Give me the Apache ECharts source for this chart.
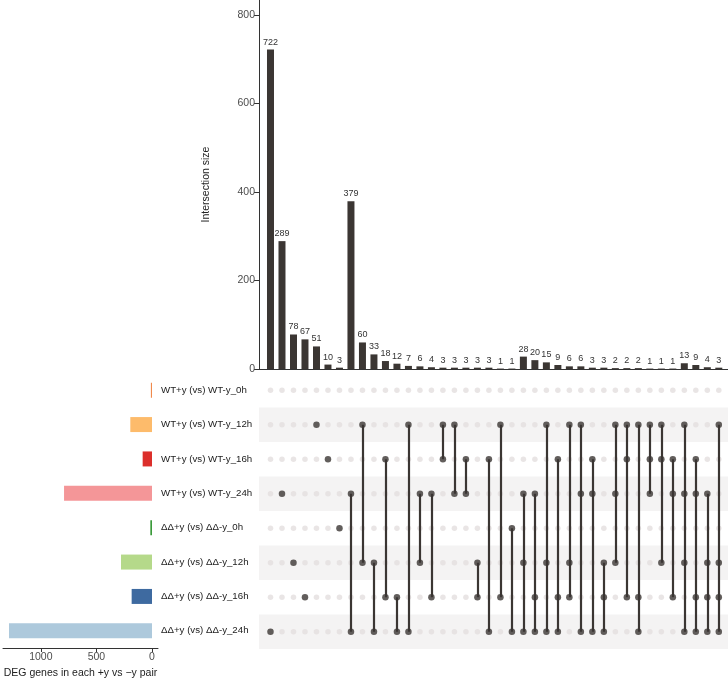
<!DOCTYPE html>
<html lang="en">
<head>
    <meta charset="utf-8">
    <title>UpSet - DEG intersections</title>
    <script src="https://cdn.jsdelivr.net/npm/echarts@6/dist/echarts.min.js"></script>
    <style>
        body { margin: 0; background: #fff; }
        #main { width: 728px; height: 680px; }
    </style>
</head>
<body>
    <div id="main"></div>
    <script type="text/javascript">
    // set names, top to bottom
    var sets = [
        'WT+y (vs) WT-y_0h',
        'WT+y (vs) WT-y_12h',
        'WT+y (vs) WT-y_16h',
        'WT+y (vs) WT-y_24h',
        'ΔΔ+y (vs) ΔΔ-y_0h',
        'ΔΔ+y (vs) ΔΔ-y_12h',
        'ΔΔ+y (vs) ΔΔ-y_16h',
        'ΔΔ+y (vs) ΔΔ-y_24h'
    ];
    // DEG genes per set (left bars)
    var setSizes = [10, 195, 84, 791, 15, 279, 183, 1286];
    var setColors = ['#f08a4b', '#fdbb6b', '#dc2f2b', '#f49698', '#3a9a3a', '#b5d98a', '#3e6aa0', '#adc9dc'];

    // intersection sizes (top bars), left to right
    var intersectionSizes = [722, 289, 78, 67, 51, 10, 3, 379, 60, 33, 18, 12, 7, 6, 4, 3, 3, 3, 3, 3,
        1, 1, 28, 20, 15, 9, 6, 6, 3, 3, 2, 2, 2, 1, 1, 1, 13, 9, 4, 3];
    // which sets (row index) belong to each intersection
    var memberships = [
        [7], [3], [5], [6], [1], [2], [4],
        [3, 7], [1, 5], [5, 7], [2, 6], [6, 7], [1, 7], [3, 5], [3, 6], [1, 2], [1, 3], [2, 3], [5, 6], [2, 7],
        [1, 6], [4, 7],
        [3, 5, 7], [3, 6, 7], [1, 5, 7], [2, 6, 7], [1, 5, 6], [1, 3, 7], [2, 3, 7], [5, 6, 7], [1, 3, 5],
        [1, 2, 6], [1, 6, 7], [1, 2, 3], [1, 2, 5], [2, 3, 6],
        [1, 3, 5, 7], [2, 3, 6, 7], [3, 5, 6, 7], [1, 5, 6, 7]
    ];
    var yTicks = [0, 200, 400, 600, 800];
    var sizeTicks = [0, 500, 1000];

    var dark = '#3b3633';
    var font = 'Liberation Sans';

    // build series data
    var barData = intersectionSizes.map(function (v, i) { return [i + 1, v]; });
    var offDots = [], onDots = [], segs = [];
    memberships.forEach(function (m, i) {
        var x = i + 1;
        for (var r = 0; r < sets.length; r++) {
            if (m.indexOf(r) >= 0) onDots.push([x, r]);
            else offDots.push([x, r]);
        }
        if (m.length > 1) {
            segs.push({ coords: [[x, Math.min.apply(null, m)], [x, Math.max.apply(null, m)]] });
        }
    });
    var stripes = [];
    for (var r = 1; r < sets.length; r += 2) {
        stripes.push([{ xAxis: 0, yAxis: r - 0.5 }, { xAxis: 40.8, yAxis: r + 0.5 }]);
    }

    var myChart = echarts.init(document.getElementById('main'));

    myChart.setOption({
        animation: false,
        textStyle: { fontFamily: font },
        grid: [
            { left: 259, top: 0, width: 469, height: 369 },   // intersection bars
            { left: 259, top: 373, width: 469, height: 276 }, // matrix
            { left: 3, top: 373, width: 155, height: 276 }    // set sizes
        ],
        xAxis: [
            {
                gridIndex: 0, type: 'value', min: 0, max: 40.8,
                axisLine: { show: true, lineStyle: { color: '#333' } },
                axisTick: { show: false }, axisLabel: { show: false }, splitLine: { show: false }
            },
            {
                gridIndex: 1, type: 'value', min: 0, max: 40.8, show: false
            },
            {
                gridIndex: 2, type: 'value', inverse: true, min: -54, max: 1340,
                axisLine: { show: true, onZero: false, lineStyle: { color: '#333' } },
                axisTick: { show: true, length: 4, customValues: sizeTicks, lineStyle: { color: '#333' } },
                axisLabel: {
                    customValues: sizeTicks, fontSize: 10.5, color: '#4d4d4d', margin: 4,
                    formatter: function (v) { return String(v); }
                },
                splitLine: { show: false },
                name: 'DEG genes in each +y vs \u2212y pair',
                nameLocation: 'middle', nameGap: 20,
                nameTextStyle: { fontSize: 10.5, color: '#222' }
            }
        ],
        yAxis: [
            {
                gridIndex: 0, type: 'value', min: 0, max: 834,
                axisLine: { show: true, lineStyle: { color: '#333' } },
                axisTick: { show: true, length: 5, customValues: yTicks, lineStyle: { color: '#333' } },
                axisLabel: { customValues: yTicks, fontSize: 10.5, color: '#4d4d4d', margin: 4 },
                splitLine: { show: false },
                name: 'Intersection size', nameLocation: 'middle', nameGap: 47,
                nameTextStyle: { fontSize: 10.5, color: '#222' }
            },
            {
                gridIndex: 1, type: 'value', min: -0.5, max: 7.5, inverse: true, show: false
            },
            {
                gridIndex: 2, type: 'category', data: sets, inverse: true, position: 'right',
                axisLine: { show: false }, axisTick: { show: false },
                axisLabel: { fontSize: 9.7, color: '#222', margin: 3, align: 'left' }
            }
        ],
        series: [
            {
                type: 'bar', xAxisIndex: 0, yAxisIndex: 0, data: barData, barWidth: 7,
                itemStyle: { color: dark },
                label: { show: true, position: 'top', distance: 3, fontSize: 9, color: '#333' }
            },
            {
                type: 'scatter', xAxisIndex: 1, yAxisIndex: 1, data: offDots,
                symbolSize: 5.5, itemStyle: { color: '#e3dfdf' }, z: 2, silent: true,
                markArea: {
                    silent: true, itemStyle: { color: '#f4f3f3' }, data: stripes
                }
            },
            {
                type: 'lines', coordinateSystem: 'cartesian2d', xAxisIndex: 1, yAxisIndex: 1,
                data: segs, lineStyle: { color: dark, width: 2.2, opacity: 1 }, z: 3, silent: true
            },
            {
                type: 'scatter', xAxisIndex: 1, yAxisIndex: 1, data: onDots,
                symbolSize: 6.5, itemStyle: { color: dark }, z: 4, silent: true
            },
            {
                type: 'bar', xAxisIndex: 2, yAxisIndex: 2, barWidth: 15,
                data: setSizes.map(function (v, i) {
                    return { value: v, itemStyle: { color: setColors[i] } };
                })
            }
        ]
    });
    </script>
</body>
</html>
